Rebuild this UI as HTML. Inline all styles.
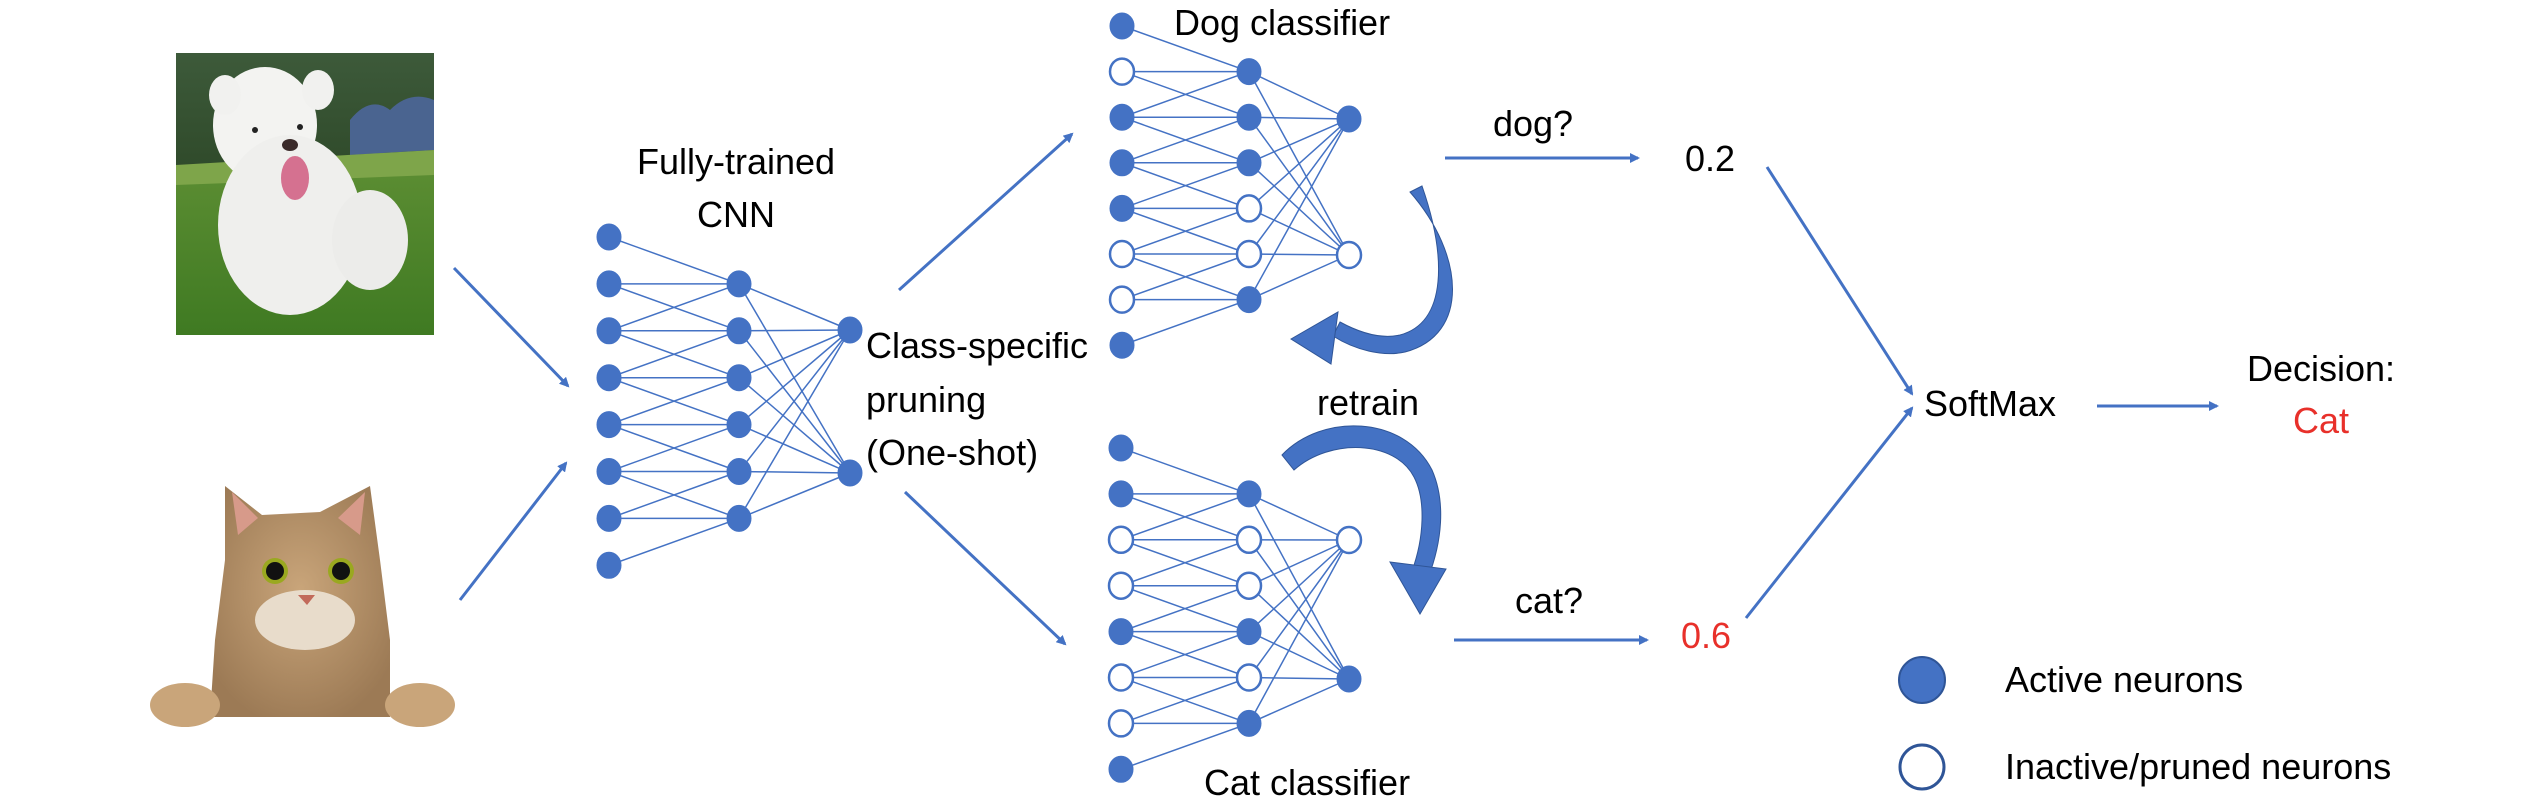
<!DOCTYPE html>
<html><head><meta charset="utf-8"><style>
html,body{margin:0;padding:0;background:#fff;}
svg{display:block;}
text{font-family:"Liberation Sans",sans-serif;fill:#000;}
</style></head><body>
<svg id="s" width="2544" height="808" viewBox="0 0 2544 808" xmlns="http://www.w3.org/2000/svg">
<defs>
<marker id="ah" markerWidth="10" markerHeight="10" refX="8" refY="5" orient="auto" markerUnits="userSpaceOnUse"><path d="M0,0 L10,5 L0,10 Z" fill="#4472C4"/></marker>
<linearGradient id="sky" x1="0" y1="0" x2="0" y2="1"><stop offset="0" stop-color="#3d5a3a"/><stop offset="1" stop-color="#2f4a2a"/></linearGradient>
<linearGradient id="grass" x1="0" y1="0" x2="0" y2="1"><stop offset="0" stop-color="#6f9a3e"/><stop offset="1" stop-color="#3f7a22"/></linearGradient>
<radialGradient id="fur" cx="0.5" cy="0.45" r="0.6"><stop offset="0" stop-color="#c9a57a"/><stop offset="1" stop-color="#9c7a55"/></radialGradient>
</defs>
<rect width="2544" height="808" fill="#fff"/>
<g>
<rect x="176" y="53" width="258" height="282" fill="url(#grass)"/>
<rect x="176" y="53" width="258" height="120" fill="url(#sky)"/>
<path d="M350,120 Q370,95 390,110 Q410,90 434,100 L434,150 L350,155 Z" fill="#4a6490"/>
<path d="M176,165 L434,150 L434,175 L176,185 Z" fill="#7ea54a"/>
<ellipse cx="265" cy="125" rx="52" ry="58" fill="#f3f3f1"/>
<ellipse cx="290" cy="225" rx="72" ry="90" fill="#efefed"/>
<ellipse cx="370" cy="240" rx="38" ry="50" fill="#ececea"/>
<ellipse cx="225" cy="95" rx="16" ry="20" fill="#f1f1ef"/>
<ellipse cx="318" cy="90" rx="16" ry="20" fill="#f1f1ef"/>
<circle cx="255" cy="130" r="3" fill="#222"/><circle cx="300" cy="127" r="3" fill="#222"/>
<ellipse cx="290" cy="145" rx="8" ry="6" fill="#3a2a2a"/>
<ellipse cx="295" cy="178" rx="14" ry="22" fill="#d57190"/>
</g>
<g>
<path d="M225,486 L262,515 L320,512 L370,486 L380,560 L390,640 L390,717 L210,717 L215,640 L225,560 Z" fill="url(#fur)"/>
<path d="M232,492 L258,518 L238,535 Z" fill="#d79a8a"/>
<path d="M365,492 L338,518 L360,535 Z" fill="#d79a8a"/>
<ellipse cx="305" cy="620" rx="50" ry="30" fill="#e8dccb"/>
<circle cx="275" cy="571" r="13" fill="#9aa820"/><circle cx="275" cy="571" r="9" fill="#111"/>
<circle cx="341" cy="571" r="13" fill="#9aa820"/><circle cx="341" cy="571" r="9" fill="#111"/>
<path d="M298,595 L315,595 L307,605 Z" fill="#c26a5a"/>
<ellipse cx="185" cy="705" rx="35" ry="22" fill="#c9a57a"/>
<ellipse cx="420" cy="705" rx="35" ry="22" fill="#c9a57a"/>
</g>
<g id="net" stroke="#4472C4" stroke-width="1.5" fill="none"></g>
<g id="nodes"></g>
<g stroke="#4472C4" stroke-width="3" fill="none" marker-end="url(#ah)">
<line x1="454" y1="268" x2="568" y2="386"/>
<line x1="460" y1="600" x2="566" y2="463"/>
<line x1="899" y1="290" x2="1072" y2="134"/>
<line x1="905" y1="492" x2="1065" y2="644"/>
<line x1="1445" y1="158" x2="1638" y2="158"/>
<line x1="1454" y1="640" x2="1647" y2="640"/>
<line x1="1767" y1="167" x2="1912" y2="394"/>
<line x1="1746" y1="618" x2="1912" y2="408"/>
<line x1="2097" y1="406" x2="2217" y2="406"/>
</g>
<g fill="#4472C4" stroke="#2F5597" stroke-width="1">
<path d="M1410,192 C1465,255 1470,335 1405,352 C1383,357 1355,350 1333,336 L1340,322 C1362,334 1382,339 1400,335 C1448,322 1446,255 1422,186 Z"/>
<polygon points="1291,339 1338,312 1331,364"/>
<path d="M1282,455 C1322,413 1404,415 1432,470 C1446,502 1442,542 1428,578 L1412,571 C1424,538 1426,500 1414,477 C1395,440 1330,438 1294,470 Z"/>
<polygon points="1390,562 1446,569 1420,614"/>
</g>
<g font-size="36">
<text x="736" y="174" text-anchor="middle">Fully-trained</text>
<text x="736" y="227" text-anchor="middle">CNN</text>
<text x="866" y="358">Class-specific</text>
<text x="866" y="412">pruning</text>
<text x="866" y="465">(One-shot)</text>
<text x="1174" y="35">Dog classifier</text>
<text x="1204" y="795">Cat classifier</text>
<text x="1368" y="415" text-anchor="middle">retrain</text>
<text x="1533" y="136" text-anchor="middle">dog?</text>
<text x="1710" y="171" text-anchor="middle">0.2</text>
<text x="1549" y="613" text-anchor="middle">cat?</text>
<text x="1706" y="648" text-anchor="middle" style="fill:#E8302A">0.6</text>
<text x="1924" y="416">SoftMax</text>
<text x="2321" y="381" text-anchor="middle">Decision:</text>
<text x="2321" y="433" text-anchor="middle" style="fill:#E8302A">Cat</text>
<text x="2005" y="692">Active neurons</text>
<text x="2005" y="779">Inactive/pruned neurons</text>
</g>
<ellipse cx="1922" cy="680" rx="23" ry="23" fill="#4472C4" stroke="#2F5597" stroke-width="2"/>
<ellipse cx="1922" cy="767" rx="22" ry="22" fill="#fff" stroke="#2F5597" stroke-width="3"/>
</svg>
<script>
(function(){
var NS="http://www.w3.org/2000/svg";
var net=document.getElementById('net'),nodes=document.getElementById('nodes');
function line(a,b){var l=document.createElementNS(NS,'line');l.setAttribute('x1',a[0]);l.setAttribute('y1',a[1]);l.setAttribute('x2',b[0]);l.setAttribute('y2',b[1]);net.appendChild(l);}
function node(p,f){var e=document.createElementNS(NS,'ellipse');e.setAttribute('cx',p[0]);e.setAttribute('cy',p[1]);e.setAttribute('rx',12);e.setAttribute('ry',13);e.setAttribute('fill',f?'#4472C4':'#fff');e.setAttribute('stroke','#4472C4');e.setAttribute('stroke-width',f?1:2.5);nodes.appendChild(e);}
function build(x1,x2,x3,y0,dy,o1,o2,p1,p2,p3){
 var L1=[],L2=[],L3=[];
 for(var i=0;i<8;i++)L1.push([x1,y0+i*dy]);
 for(var j=0;j<6;j++)L2.push([x2,y0+(j+1)*dy]);
 L3=[[x3,o1],[x3,o2]];
 for(i=0;i<8;i++)for(j=0;j<6;j++){var r=j+1;if(Math.abs(r-i)<=1)line(L1[i],L2[j]);}
 for(j=0;j<6;j++)for(var k=0;k<2;k++)line(L2[j],L3[k]);
 for(i=0;i<8;i++)node(L1[i],p1[i]);for(j=0;j<6;j++)node(L2[j],p2[j]);for(k=0;k<2;k++)node(L3[k],p3[k]);
}
build(609,739,850,237,46.9,330,473,[1,1,1,1,1,1,1,1],[1,1,1,1,1,1],[1,1]);
build(1122,1249,1349,26,45.6,119,255,[1,0,1,1,1,0,0,1],[1,1,1,0,0,1],[1,0]);
build(1121,1249,1349,448,45.9,540,679,[1,1,0,0,1,0,0,1],[1,0,0,1,0,1],[0,1]);
})();
</script>
</body></html>
